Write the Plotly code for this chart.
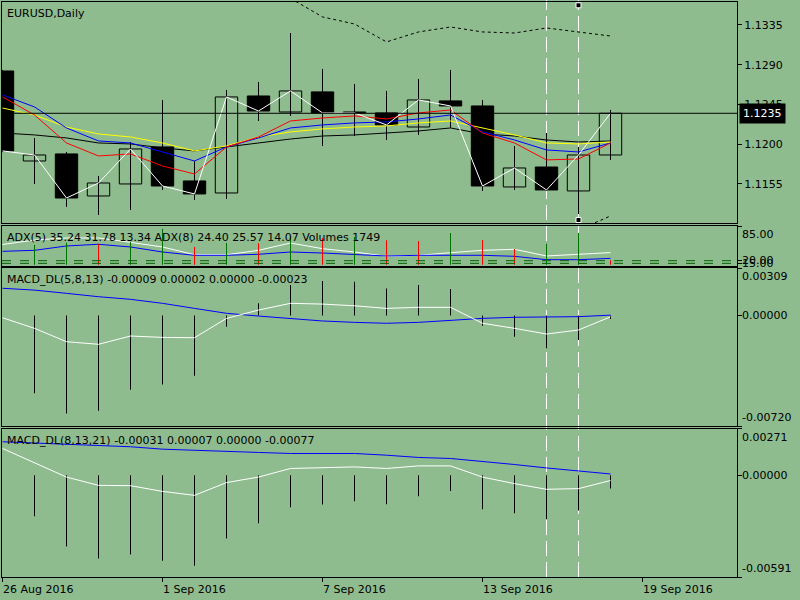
import plotly.graph_objects as go

# bar dates (daily, incl. sunday bars)
dates = ['26 Aug', '28 Aug', '29 Aug', '30 Aug', '31 Aug', '1 Sep', '2 Sep', '4 Sep', '5 Sep', '6 Sep',
         '7 Sep', '8 Sep', '9 Sep', '11 Sep', '12 Sep', '13 Sep', '14 Sep', '15 Sep', '16 Sep', '18 Sep']
tick_pos = [0, 5, 10, 15, 20]
tick_text = ['26 Aug 2016', '1 Sep 2016', '7 Sep 2016', '13 Sep 2016', '19 Sep 2016']

opens = [1.12829, 1.11810, 1.11890, 1.11414, 1.11550, 1.11969, 1.11584, 1.11448, 1.12546, 1.12365,
         1.12592, 1.12365, 1.12354, 1.12195, 1.12490, 1.12433, 1.11516, 1.11742, 1.11471, 1.11878]
highs = [1.12840, 1.12071, 1.11912, 1.11641, 1.12025, 1.12501, 1.11810, 1.12614, 1.12705, 1.13259,
         1.12852, 1.12682, 1.12603, 1.12739, 1.12841, 1.12501, 1.11980, 1.12127, 1.11969, 1.12388]
lows = [1.11910, 1.11550, 1.11290, 1.11199, 1.11256, 1.11482, 1.11369, 1.11380, 1.12263, 1.12320,
        1.11980, 1.12093, 1.12048, 1.12105, 1.12184, 1.11471, 1.11482, 1.11471, 1.11210, 1.11822]
closes = [1.11924, 1.11878, 1.11391, 1.11561, 1.11946, 1.11527, 1.11437, 1.12535, 1.12376, 1.12603,
          1.12354, 1.12354, 1.12218, 1.12501, 1.12433, 1.11527, 1.11731, 1.11482, 1.11878, 1.12350]
last_price = 1.1235
price_ticks = [1.1155, 1.1200, 1.1245, 1.1290, 1.1335]

ma_red = [1.12535, 1.12331, 1.12014, 1.11867, 1.11890, 1.11754, 1.11663, 1.11969, 1.12082, 1.12263,
          1.12297, 1.12320, 1.12286, 1.12354, 1.12388, 1.12127, 1.12014, 1.11822, 1.11833, 1.12014]
ma_blue = [1.12558, 1.12422, 1.12184, 1.12037, 1.12014, 1.11912, 1.11810, 1.11969, 1.12071, 1.12184,
           1.12218, 1.12241, 1.12252, 1.12286, 1.12331, 1.12139, 1.12048, 1.11935, 1.11912, 1.12014]
ma_yellow = [1.12410, 1.12331, 1.12195, 1.12116, 1.12082, 1.12014, 1.11924, 1.11980, 1.12082, 1.12139,
             1.12173, 1.12195, 1.12207, 1.12241, 1.12263, 1.12184, 1.12105, 1.12014, 1.12003, 1.12025]
ma_black = [1.12127, 1.12105, 1.12071, 1.12014, 1.12003, 1.11958, 1.11924, 1.11969, 1.12014, 1.12059,
            1.12093, 1.12105, 1.12127, 1.12150, 1.12184, 1.12116, 1.12093, 1.12048, 1.12025, 1.12037]
band_up = [None] * 9 + [1.13652, 1.13441, 1.13361, 1.13158, 1.13271, 1.13327, 1.13271, 1.13259,
                        1.13316, 1.13271, 1.13225]
band_dn = [None] * 18 + [1.11029, 1.11188]

adx5 = [50.6, 59.0, 62.9, 62.9, 54.7, 45.9, 31.3, 31.3, 39.6, 53.4,
        42.7, 36.4, 28.3, 30.2, 35.1, 39.6, 41.5, 28.9, 32.1, 35.24]
adx8 = [37.7, 39.6, 47.8, 51.0, 45.9, 36.4, 30.2, 30.2, 32.1, 36.4,
        34.5, 32.1, 28.9, 30.2, 30.2, 30.2, 28.3, 21.9, 21.9, 24.40]
adx_levels = [20, 15]
volumes = [None, 8000, 8800, 8400, 9100, 14400, 7100, 8700, 8600, 11100,
           10700, 11100, 9800, 9500, 12700, 9900, 6300, 8400, 12700, 1749]

macd1_hist = [None, -0.00507, -0.00638, -0.00621, -0.00484, -0.00449, -0.00393, -0.00074, 0.00079, 0.00198,
              0.00224, 0.00219, 0.00175, 0.00198, 0.00172, -0.00067, -0.00139, -0.00214, -0.00160, -0.00023]
macd1_main = [-0.00015, -0.00084, -0.00171, -0.00188, -0.00134, -0.00143, -0.00145, -0.00019, 0.00035, 0.00079,
              0.00074, 0.00063, 0.00046, 0.00053, 0.00053, -0.00051, -0.00084, -0.00121, -0.00095, -0.00009]
macd1_signal = [0.00177, 0.00165, 0.00144, 0.00122, 0.00105, 0.00079, 0.00046, 0.00014, -0.00004, -0.00019,
                -0.00036, -0.00045, -0.00051, -0.00045, -0.00030, -0.00019, -0.00012, -0.00008, -0.00008, 0.00002]

macd2_hist = [None, -0.00238, -0.00414, -0.00484, -0.00461, -0.00496, -0.00525, -0.00367, -0.00279, -0.00186,
              -0.00170, -0.00151, -0.00168, -0.00122, -0.00092, -0.00198, -0.00221, -0.00254, -0.00205, -0.00077]
macd2_main = [0.00155, 0.00074, -0.00011, -0.00059, -0.00061, -0.00094, -0.00117, -0.00043, -0.00011, 0.00039,
              0.00044, 0.00048, 0.00039, 0.00054, 0.00054, -0.00011, -0.00049, -0.00082, -0.00078, -0.00031]
macd2_signal = [0.00194, 0.00186, 0.00179, 0.00172, 0.00165, 0.00151, 0.00146, 0.00140, 0.00132, 0.00126,
                0.00126, 0.00126, 0.00116, 0.00103, 0.00097, 0.00081, 0.00062, 0.00042, 0.00023, 0.00007]

marked_bars = [17, 18]

BG = '#8FBC8F'
FONT = 'DejaVu Sans'
BAR_PX = 32  # pixels per bar on the time axis
idx = list(range(len(dates)))
thin = 1.0 / BAR_PX  # 1px wide histogram lines

fig = go.Figure()

# candles: wicks, then bodies
wx, wy = [], []
for i in idx:
    wx += [i, i, None]
    wy += [lows[i], highs[i], None]
fig.add_trace(go.Scatter(x=wx, y=wy, mode='lines', line=dict(color='black', width=1), xaxis='x', yaxis='y'))
fig.add_trace(go.Bar(x=idx, base=[min(o, c) for o, c in zip(opens, closes)],
                     y=[max(abs(c - o), 0.00004) for o, c in zip(opens, closes)],
                     width=0.7, marker=dict(color=['black' if c < o else BG for o, c in zip(opens, closes)],
                                            line=dict(color='black', width=1)),
                     xaxis='x', yaxis='y'))

for vals, col in [(ma_black, 'black'), (ma_yellow, '#FFFF00'), (ma_blue, '#0000FF'), (ma_red, '#FF0000')]:
    fig.add_trace(go.Scatter(x=idx, y=vals, mode='lines', line=dict(color=col, width=1), xaxis='x', yaxis='y'))
fig.add_trace(go.Scatter(x=idx, y=closes, mode='lines', line=dict(color='white', width=1), xaxis='x', yaxis='y'))
for vals in [band_up, band_dn]:
    fig.add_trace(go.Scatter(x=idx, y=vals, mode='lines', line=dict(color='black', width=1, dash='dot'),
                             xaxis='x', yaxis='y'))

# ADX + volumes
vol_col = []
for i in idx:
    if volumes[i] is None or i == 0 or volumes[i - 1] is None:
        vol_col.append('#007000')
    else:
        vol_col.append('#007000' if volumes[i] > volumes[i - 1] else '#FF0000')
fig.add_trace(go.Bar(x=idx, y=volumes, width=thin, marker=dict(color=vol_col, line=dict(width=0)),
                     xaxis='x2', yaxis='y5'))
fig.add_trace(go.Scatter(x=idx, y=adx5, mode='lines', line=dict(color='white', width=1), xaxis='x2', yaxis='y2'))
fig.add_trace(go.Scatter(x=idx, y=adx8, mode='lines', line=dict(color='#0000FF', width=1), xaxis='x2', yaxis='y2'))

# MACD panels
for h, m, s, ya, xa in [(macd1_hist, macd1_main, macd1_signal, 'y3', 'x3'),
                        (macd2_hist, macd2_main, macd2_signal, 'y4', 'x4')]:
    fig.add_trace(go.Bar(x=idx, y=h, width=thin, marker=dict(color='black', line=dict(width=0)),
                         xaxis=xa, yaxis=ya))
    fig.add_trace(go.Scatter(x=idx, y=s, mode='lines', line=dict(color='#0000FF', width=1), xaxis=xa, yaxis=ya))
    fig.add_trace(go.Scatter(x=idx, y=m, mode='lines', line=dict(color='white', width=1), xaxis=xa, yaxis=ya))

# panel geometry (pixel rows -> paper fractions)
def dom(top, bottom):
    return [(577 - bottom) / 575, (577 - top) / 575]

axis_common = dict(showline=True, mirror=True, linecolor='black', linewidth=1, showgrid=False,
                   zeroline=False, fixedrange=True)
x0 = -0.5 / BAR_PX  # put bar centres on pixel centres
xr = [x0, x0 + 735.0 / BAR_PX]
layout = dict(
    width=800, height=600, margin=dict(l=2, r=63, t=2, b=23),
    paper_bgcolor=BG, plot_bgcolor=BG, showlegend=False, hovermode=False, barmode='overlay',
    font=dict(family=FONT, size=11, color='black'),
    xaxis=dict(range=xr, anchor='y', showticklabels=False, ticks='', **axis_common),
    xaxis2=dict(range=xr, anchor='y2', matches='x', showticklabels=False, ticks='', **axis_common),
    xaxis3=dict(range=xr, anchor='y3', matches='x', showticklabels=False, ticks='', **axis_common),
    xaxis4=dict(range=xr, anchor='y4', matches='x', tickvals=tick_pos, showticklabels=False,
                ticks='outside', ticklen=4, tickcolor='black', **axis_common),
    yaxis=dict(domain=dom(2, 223), range=[1.11108, 1.13610], side='right', tickvals=price_ticks,
               ticktext=['%.4f' % v for v in price_ticks], ticks='outside', ticklen=4, tickcolor='black',
               **axis_common),
    yaxis2=dict(domain=dom(226, 266), range=[10, 85.5], side='right', tickvals=[85] + adx_levels,
                showticklabels=False, ticks='outside', ticklen=4, tickcolor='black', **axis_common),
    yaxis3=dict(domain=dom(268, 426), range=[-0.0072, 0.00309], side='right', tickvals=[-0.0072, 0, 0.00309],
                showticklabels=False, ticks='outside', ticklen=4, tickcolor='black', **axis_common),
    yaxis4=dict(domain=dom(428.5, 577), range=[-0.00591, 0.00271], side='right',
                tickvals=[-0.00591, 0, 0.00271], showticklabels=False, ticks='outside', ticklen=4,
                tickcolor='black', **axis_common),
    yaxis5=dict(overlaying='y2', range=[-520, 15480], visible=False, fixedrange=True),
)
fig.update_layout(**layout)

shapes = []
shapes.append(dict(type='line', xref='paper', x0=0, x1=1, yref='y', y0=last_price, y1=last_price,
                   line=dict(color='black', width=1), layer='above'))
for lv in adx_levels:
    shapes.append(dict(type='line', xref='paper', x0=0, x1=1, yref='y2', y0=lv, y1=lv,
                       line=dict(color='#006400', width=1, dash='dash')))
# vertical marker lines sit behind the candles and indicator lines
for b in marked_bars:
    shapes.append(dict(type='line', xref='x', x0=b, x1=b, yref='paper', y0=0, y1=1.004,
                       line=dict(color='white', width=1, dash='15px,6px'), layer='below'))
for yp in [(577 - 5.3) / 575, (577 - 220) / 575]:
    shapes.append(dict(type='rect', xref='x', yref='paper', xsizemode='pixel', ysizemode='pixel',
                       xanchor=marked_bars[1], yanchor=yp, x0=-2.5, x1=2.5, y0=-2.5, y1=2.5,
                       fillcolor='black', line=dict(color='white', width=1), layer='above'))
fig.update_layout(shapes=shapes)

ann = []
# panel titles
titles = [
    ('EURUSD,Daily', 1.0),
    ('ADX(5) 35.24 31.78 13.34 ADX(8) 24.40 25.57 14.07 Volumes 1749', dom(226, 266)[1]),
    ('MACD_DL(5,8,13) -0.00009 0.00002 0.00000 -0.00023', dom(268, 426)[1]),
    ('MACD_DL(8,13,21) -0.00031 0.00007 0.00000 -0.00077', dom(428.5, 577)[1]),
]
for txt, yp in titles:
    ann.append(dict(text=txt, xref='paper', x=0, xanchor='left', xshift=3, yref='paper', y=yp,
                    yanchor='top', yshift=-3, showarrow=False, font=dict(family=FONT, size=11, color='black')))
# right-axis labels of subwindows
sub_labels = [
    ('y2', 85, '85.00', 'top'), ('y2', 20, '20.00', 'middle'), ('y2', 15, '15.00', 'middle'),
    ('y3', 0.00309, '0.00309', 'top'), ('y3', 0, '0.00000', 'middle'), ('y3', -0.0072, '-0.00720', 'bottom'),
    ('y4', 0.00271, '0.00271', 'top'), ('y4', 0, '0.00000', 'middle'), ('y4', -0.00591, '-0.00591', 'bottom'),
]
for ya, v, txt, anc in sub_labels:
    ann.append(dict(text=txt, xref='paper', x=1, xanchor='left', xshift=3, yref=ya, y=v, yanchor=anc,
                    showarrow=False, font=dict(family=FONT, size=11, color='black')))
# current price box
ann.append(dict(text='%.4f' % last_price, xref='paper', x=1, xanchor='left', xshift=2, yref='y', y=last_price,
                yanchor='middle', showarrow=False, bgcolor='black', borderpad=3,
                font=dict(family=FONT, size=11, color='white')))
# date labels, left aligned at the tick
for p, t in zip(tick_pos, tick_text):
    ann.append(dict(text=t, xref='x', x=p, xanchor='left', xshift=-2, yref='paper', y=0, yanchor='top',
                    yshift=-4, showarrow=False, font=dict(family=FONT, size=11, color='black')))
fig.update_layout(annotations=ann)

# page has a default 8px body margin; drop it so the figure fills the window
fig.write_html("out.html", config={'displayModeBar': False},
               post_script="document.body.style.margin='0';document.body.style.overflow='hidden';")
